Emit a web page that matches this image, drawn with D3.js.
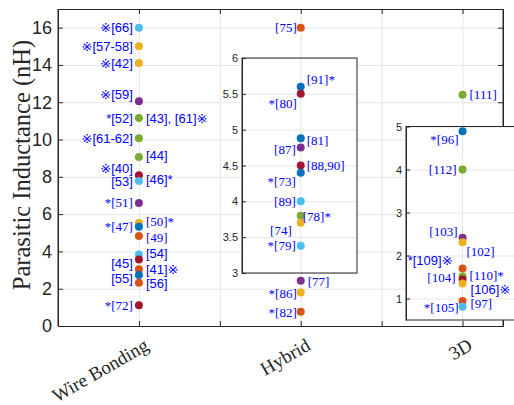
<!DOCTYPE html>
<html>
<head>
<meta charset="utf-8">
<script src="https://cdn.jsdelivr.net/npm/d3@7"></script>
<style>
  body { margin: 0; background: #fff; }
  .grid line { stroke: #e6e6e6; }
  .grid path { stroke: none; }
  .ax path, .ax line { stroke: #262626; }
  .ax text { fill: #262626; }
</style>
</head>
<body>
<div id="chart"></div>
<script>
// categories and axis ticks
var categories = ["Wire Bonding", "Hybrid", "3D"];
var yTicks = [0, 2, 4, 6, 8, 10, 12, 14, 16];
var hybInsetTicks = [3, 3.5, 4, 4.5, 5, 5.5, 6];
var d3InsetTicks = [1, 2, 3, 4, 5];

// matlab default colour order
var palette = {blue: "#0072BD", orangered: "#D95319", orange: "#EDB120", purple: "#7E2F8E",
	green: "#77AC30", cyan: "#4DBEEE", darkred: "#A2142F"};

// Wire Bonding
var wbValues = [16.0, 15.0, 14.1, 12.05, 11.15, 10.07, 9.06, 8.08, 7.78, 6.6, 5.53, 5.32, 4.82, 3.83, 3.56, 3.05, 2.73, 2.32, 1.11];
var wbColors = ["cyan", "orange", "orange", "purple", "green", "green", "green", "darkred", "cyan", "purple",
	"orange", "blue", "orangered", "cyan", "darkred", "orangered", "blue", "orangered", "darkred"];
var wbLabels = ["※[66]", "※[57-58]", "※[42]", "※[59]", "*[52]", "[43], [61]※", "※[61-62]", "[44]", "※[40]", "[53]",
	"[46]*", "*[51]", "*[47]", "[50]*", "[49]", "[54]", "[45]", "[55]", "[41]※", "[56]", "*[72]"];
var wbLabelPoint = [0, 1, 2, 3, 4, 4, 5, 6, 7, 8, 7, 9, 11, 10, 12, 13, 14, 16, 15, 17, 18];

// Hybrid, outside the inset
var hyValues = [16.0, 2.42, 1.8, 0.77];
var hyColors = ["orangered", "purple", "orange", "orangered"];
var hyLabels = ["[75]", "[77]", "*[86]", "*[82]"];

// Hybrid, inset
var hyInValues = [5.6, 5.5, 4.88, 4.75, 4.5, 4.4, 4.0, 3.8, 3.7, 3.38];
var hyInColors = ["blue", "darkred", "blue", "purple", "darkred", "blue", "cyan", "green", "orange", "cyan"];
var hyInLabels = ["[91]*", "*[80]", "[81]", "[87]", "[88,90]", "*[73]", "[89]", "[78]*", "[74]", "*[79]"];

// 3D, outside the inset
var tdValues = [12.4];
var tdColors = ["green"];
var tdLabels = ["[111]"];

// 3D, inset
var tdInValues = [4.89, 4.0, 2.41, 2.31, 1.7, 1.51, 1.44, 1.35, 0.94, 0.81];
var tdInColors = ["blue", "green", "purple", "orange", "orangered", "green", "darkred", "orange", "orangered", "cyan"];
var tdInLabels = ["*[96]", "[112]", "[103]", "[102]", "*[109]※", "[110]*", "[104]", "[106]※", "[97]", "*[105]"];

// label placement: side, dy, dx, font (s = sans, r = serif)
var wbLayout = [["L",0,0,"s"],["L",0,0,"s"],["L",0,0,"s"],["L",-7,0,"s"],["L",0,0,"s"],["R",0,0,"s"],["L",0,0,"s"],
	["R",-2,0,"s"],["L",-7,0,"s"],["L",1,0,"s"],["R",4,0,"s"],["L",0,0,"r"],["L",0,0,"r"],["R",-1,0,"r"],["R",1,0,"r"],
	["R",-1,0,"s"],["L",4,0,"s"],["L",3,0,"s"],["R",0,0,"s"],["R",1,0,"s"],["L",0,0,"r"]];
var hyLayout = [["L",0,2,"r"],["R",1,0,"r"],["L",1,2,"r"],["L",1,2,"r"]];
var hyInLayout = [["R",-7,-1,"r"],["L",9.5,2,"r"],["R",2,-1,"r"],["L",2,1,"r"],["R",0,-1,"r"],["L",9,1,"r"],
	["L",0,1,"r"],["R",1,-5,"r"],["L",8,-3,"r"],["L",0,1,"r"]];
var tdLayout = [["R",0,0,"r"]];
var tdInLayout = [["L",8,2,"r"],["L",0,0,"r"],["L",-6,1,"r"],["R",9,-3,"r"],["L",-8,-4,"s"],["R",-1.5,0,"r"],
	["L",-2,-1,"r"],["R",5.5,1,"s"],["R",2.5,1,"r"],["L",1,2,"r"]];

var W = 514, H = 405;
var box = {left: 58, right: 503, top: 9, bottom: 326};

var svg = d3.select("#chart").append("svg")
	.attr("width", W).attr("height", H)
	.style("font-family", "'Liberation Serif', 'Times New Roman', serif");

var x = d3.scaleLinear().domain([0.5, 3.25]).range([box.left, box.right]);
var y = d3.scaleLinear().domain([0, 17]).range([box.bottom, box.top]);
var xTicks = [0.5, 1, 1.5, 2, 2.5, 3];

// grid
svg.append("g").attr("class", "grid")
	.attr("transform", "translate(" + box.left + ",0)")
	.call(d3.axisLeft(y).tickValues(yTicks).tickSize(-(box.right - box.left)).tickFormat(""));
svg.append("g").attr("class", "grid")
	.attr("transform", "translate(0," + box.bottom + ")")
	.call(d3.axisBottom(x).tickValues(xTicks).tickSize(-(box.bottom - box.top)).tickFormat(""));

// main axes, ticks point inward
var axL = svg.append("g").attr("class", "ax")
	.attr("transform", "translate(" + box.left + ",0)")
	.call(d3.axisLeft(y).tickValues(yTicks).tickSizeInner(-5).tickSizeOuter(0).tickPadding(6));
axL.selectAll("text").style("font-size", "18px");
svg.append("g").attr("class", "ax")
	.attr("transform", "translate(" + box.right + ",0)")
	.call(d3.axisRight(y).tickValues(yTicks).tickSizeInner(-5).tickSizeOuter(0).tickFormat(""));
svg.append("g").attr("class", "ax")
	.attr("transform", "translate(0," + box.bottom + ")")
	.call(d3.axisBottom(x).tickValues(xTicks).tickSizeInner(-5).tickSizeOuter(0).tickFormat(""));
svg.append("g").attr("class", "ax")
	.attr("transform", "translate(0," + box.top + ")")
	.call(d3.axisTop(x).tickValues(xTicks).tickSizeInner(-5).tickSizeOuter(0).tickFormat(""));
svg.append("line").attr("x1", box.left).attr("x2", box.left).attr("y1", box.top).attr("y2", box.bottom).attr("stroke", "#262626");
svg.append("line").attr("x1", box.right).attr("x2", box.right).attr("y1", box.top).attr("y2", box.bottom).attr("stroke", "#262626");

// category labels
svg.selectAll(".cat").data(categories).enter().append("text")
	.attr("class", "cat")
	.attr("text-anchor", "end")
	.attr("fill", "#262626")
	.style("font-size", "19px")
	.attr("transform", function(d, i) { return "translate(" + (x(i + 1) + 11) + ",349) rotate(-30)"; })
	.text(function(d) { return d; });

// y label
svg.append("text")
	.attr("text-anchor", "middle")
	.attr("fill", "#262626")
	.style("font-size", "24.5px")
	.attr("transform", "translate(30,165) rotate(-90)")
	.text("Parasitic Inductance (nH)");

function drawPoints(g, cx, ys, values, colors, labels, labelPoint, layout) {
	g.selectAll(".pt").data(values).enter().append("circle")
		.attr("cx", cx)
		.attr("cy", function(d) { return ys(d); })
		.attr("r", 4)
		.attr("fill", function(d, i) { return palette[colors[i]]; });
	g.selectAll(".lb").data(labels).enter().append("text")
		.attr("x", function(d, i) {
			var l = layout[i];
			return l[0] == "L" ? cx - 6 + l[2] : cx + 7 + l[2];
		})
		.attr("y", function(d, i) { return ys(values[labelPoint ? labelPoint[i] : i]) + layout[i][1]; })
		.attr("dy", "0.35em")
		.attr("text-anchor", function(d, i) { return layout[i][0] == "L" ? "end" : "start"; })
		.attr("fill", "#0000FF")
		.style("font-size", "13px")
		.style("font-family", function(d, i) {
			return layout[i][3] == "s" ? "'Liberation Sans', Arial, 'DejaVu Sans', sans-serif" : "'Liberation Serif', 'Times New Roman', serif";
		})
		.text(function(d) { return d; });
}

drawPoints(svg.append("g"), x(1), y, wbValues, wbColors, wbLabels, wbLabelPoint, wbLayout);
drawPoints(svg.append("g"), x(2), y, hyValues, hyColors, hyLabels, null, hyLayout);
drawPoints(svg.append("g"), x(3), y, tdValues, tdColors, tdLabels, null, tdLayout);

function drawInset(rect, domain, ticks, cx, values, colors, labels, layout) {
	var g = svg.append("g");
	var ys = d3.scaleLinear().domain(domain).range([rect.bottom, rect.top]);
	g.append("rect").attr("x", rect.left).attr("y", rect.top)
		.attr("width", rect.right - rect.left).attr("height", rect.bottom - rect.top)
		.attr("fill", "#fff");
	g.append("g").attr("class", "grid")
		.attr("transform", "translate(" + rect.left + ",0)")
		.call(d3.axisLeft(ys).tickValues(ticks).tickSize(-(rect.right - rect.left)).tickFormat(""));
	g.append("line").attr("x1", cx).attr("x2", cx).attr("y1", rect.top).attr("y2", rect.bottom).attr("stroke", "#e6e6e6");
	var ax = g.append("g").attr("class", "ax")
		.attr("transform", "translate(" + rect.left + ",0)")
		.call(d3.axisLeft(ys).tickValues(ticks).tickSizeInner(-4).tickSizeOuter(0).tickPadding(4).tickFormat(function(d) { return d; }));
	ax.selectAll("text").style("font-size", "11px").style("font-family", "'Liberation Sans', Arial, sans-serif");
	g.append("rect").attr("x", rect.left).attr("y", rect.top)
		.attr("width", rect.right - rect.left).attr("height", rect.bottom - rect.top)
		.attr("fill", "none").attr("stroke", "#262626");
	drawPoints(g, cx, ys, values, colors, labels, null, layout);
}

drawInset({left: 242, right: 357, top: 58, bottom: 273}, [3, 6], hybInsetTicks, x(2),
	hyInValues, hyInColors, hyInLabels, hyInLayout);
drawInset({left: 406, right: 524, top: 126.5, bottom: 320}, [0.5, 5], d3InsetTicks, x(3),
	tdInValues, tdInColors, tdInLabels, tdInLayout);
</script>
</body>
</html>
